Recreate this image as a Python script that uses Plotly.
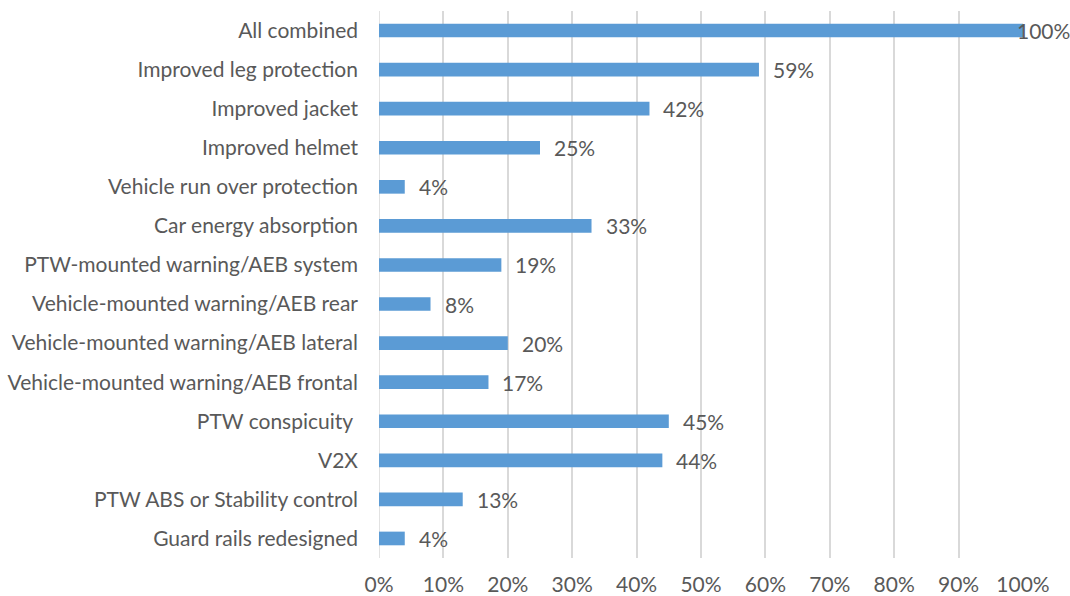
import plotly.graph_objects as go

measures = [
    "All combined",
    "Improved leg protection",
    "Improved jacket",
    "Improved helmet",
    "Vehicle run over protection",
    "Car energy absorption",
    "PTW-mounted warning/AEB system",
    "Vehicle-mounted warning/AEB rear",
    "Vehicle-mounted warning/AEB lateral",
    "Vehicle-mounted warning/AEB frontal",
    "PTW conspicuity ",
    "V2X",
    "PTW ABS or Stability control",
    "Guard rails redesigned",
]
shares = [100, 59, 42, 25, 4, 33, 19, 8, 20, 17, 45, 44, 13, 4]
tick_values = [0, 10, 20, 30, 40, 50, 60, 70, 80, 90, 100]
tick_labels = [f"{v}%" for v in tick_values]

FONT = dict(family="Lato, 'Open Sans', sans-serif", size=21, color="#595959")

fig = go.Figure(
    go.Bar(
        x=shares,
        y=measures,
        orientation="h",
        marker=dict(color="#5B9BD5", line=dict(width=0)),
        hoverinfo="skip",
    )
)

# value labels to the right of each bar; the full-width bar keeps its label inside the frame
for m, v in zip(measures, shares):
    fig.add_annotation(
        x=v, y=m, text=f"{v}%", showarrow=False,
        xanchor="left", yanchor="middle",
        xshift=-8 if v >= 100 else 12,
        font=FONT,
    )

fig.update_layout(
    width=1070, height=596,
    margin=dict(l=379, r=47, t=11, b=38),
    paper_bgcolor="white", plot_bgcolor="white",
    bargap=0.65,
    font=FONT,
    showlegend=False,
)
fig.update_xaxes(
    range=[0, 100],
    tickvals=tick_values, ticktext=tick_labels,
    showgrid=True, gridcolor="#d9d9d9", gridwidth=1.5,
    zeroline=False, showline=False, ticks="",
    ticklabelstandoff=12,
    tickfont=FONT,
    automargin=False,
)
fig.update_yaxes(
    autorange="reversed",
    showgrid=False, zeroline=False, showline=False, ticks="",
    ticklabelstandoff=20,
    tickfont=FONT,
    automargin=False,
)
# the left frame line sits on top of the zero gridline
fig.add_shape(type="line", xref="x", yref="paper", x0=0, x1=0, y0=0, y1=1,
              line=dict(color="#d9d9d9", width=1.5), layer="below")

fig.write_html("out.html")
